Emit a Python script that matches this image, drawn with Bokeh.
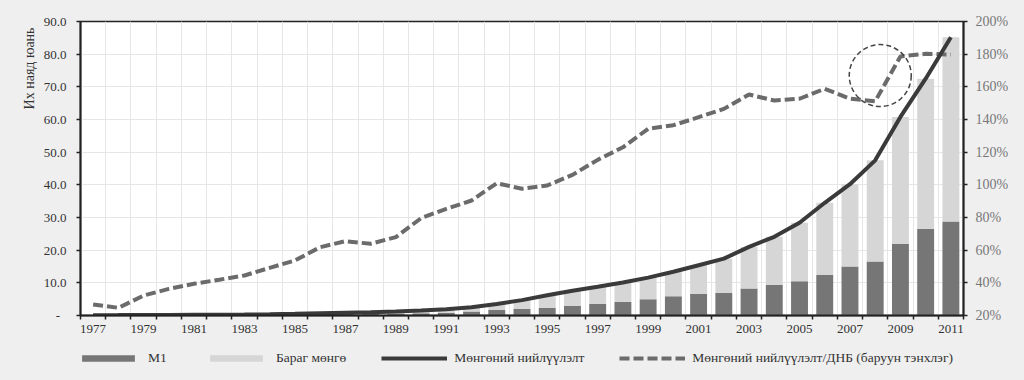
from bokeh.plotting import figure
from bokeh.layouts import column
from bokeh.models import (Range1d, LinearAxis, FixedTicker, NumeralTickFormatter,
                          PrintfTickFormatter, Legend, LegendItem, Title, ColumnDataSource)
from bokeh.embed import file_html
from bokeh.resources import INLINE

# ---------------- data ----------------
years = list(range(1977, 2012))

# Money supply (M2), trillion yuan
m2 = [0.10, 0.12, 0.15, 0.17, 0.20, 0.23, 0.28, 0.38, 0.50, 0.67,
      0.83, 1.00, 1.20, 1.50, 1.90, 2.50, 3.50, 4.70, 6.20, 7.60,
      8.80, 10.1, 11.6, 13.4, 15.4, 17.4, 21.0, 24.1, 28.4, 34.5,
      40.2, 47.5, 60.8, 72.5, 85.2]

# M1, trillion yuan
m1 = [0.06, 0.07, 0.09, 0.10, 0.12, 0.14, 0.16, 0.22, 0.30, 0.38,
      0.46, 0.55, 0.60, 0.70, 0.85, 1.20, 1.65, 2.00, 2.35, 2.90,
      3.60, 4.10, 5.00, 5.90, 6.60, 6.90, 8.30, 9.40, 10.5, 12.4,
      15.0, 16.5, 21.9, 26.5, 28.8]

# Money supply / GDP, percent (right axis)
ratio = [26.7, 24.7, 32.2, 36.3, 39.4, 41.9, 44.5, 49.2, 53.7, 61.8,
         65.5, 63.9, 68.0, 79.6, 85.3, 90.4, 101.0, 97.6, 99.6, 106.1,
         115.3, 123.0, 134.3, 136.5, 141.4, 146.5, 155.3, 151.6, 152.7, 158.8,
         152.7, 151.2, 178.6, 180.2, 179.8]

# quasi money = M2 - M1
quasi = [round(a - b, 3) for a, b in zip(m2, m1)]

left_ticks = list(range(0, 91, 10))
right_ticks = list(range(20, 201, 20))
highlight_year = 2008

labels = ["M1", "Бараг мөнгө", "Мөнгөний нийлүүлэлт",
          "Мөнгөний нийлүүлэлт/ДНБ (баруун тэнхлэг)"]
y_label = "Их наяд юань"

src = ColumnDataSource(dict(year=years, m1=m1, quasi=quasi, m2=m2, ratio=ratio))

FONT = "Liberation Serif"
BG = "#efefef"
C_M1, C_Q = "#767676", "#d6d6d6"
C_SOLID, C_DASH = "#3a3a3a", "#6b6b6b"

p = figure(width=1024, height=345,
           x_range=Range1d(years[0] - 0.5, years[-1] + 0.5),
           y_range=Range1d(0, 90),
           output_backend="svg", toolbar_location=None,
           min_border_left=80, min_border_right=61,
           min_border_top=21, min_border_bottom=30,
           background_fill_color="white", border_fill_color=BG,
           outline_line_color="#222222", outline_line_width=1.5)
p.extra_y_ranges = {"pct": Range1d(20, 200)}

bars = p.vbar_stack(["m1", "quasi"], x="year", width=0.67, source=src,
                    fill_color=[C_M1, C_Q], line_color=None)
dash = p.line("year", "ratio", source=src, y_range_name="pct",
              line_color=C_DASH, line_width=4, line_dash="10 4")
solid = p.line("year", "m2", source=src, line_color=C_SOLID, line_width=4)

hi = years.index(highlight_year)
cy = (ratio[hi] + ratio[hi + 1]) / 2 + 2
p.scatter(x=[highlight_year + 0.2], y=[cy], y_range_name="pct", size=62,
          marker="circle", fill_color=None, line_color="#444444",
          line_width=1.5, line_dash="5 3")

# x axis
p.xaxis.ticker = FixedTicker(ticks=[y for y in years if y % 2 == 1],
                             minor_ticks=[y - 0.5 for y in years] + [years[-1] + 0.5])
p.xaxis.formatter = NumeralTickFormatter(format="0")
p.xaxis.major_tick_line_color = None
p.xaxis.major_tick_out = 4
p.xaxis.major_tick_in = 0
p.xaxis.minor_tick_out = 4
p.xaxis.minor_tick_in = 0
p.xaxis.minor_tick_line_color = "#222222"
p.xaxis.minor_tick_line_width = 1.5
p.xaxis.axis_line_color = "#222222"
p.xaxis.axis_line_width = 2
p.xaxis.major_label_standoff = 5
p.xaxis.major_label_text_font = FONT
p.xaxis.major_label_text_font_size = "13px"
p.xaxis.major_label_text_color = "#333333"

p.xgrid.ticker = FixedTicker(ticks=[y - 0.5 for y in years])
p.xgrid.grid_line_color = "#e6e6e6"
p.ygrid.grid_line_color = "#e6e6e6"

# left axis
p.yaxis.ticker = FixedTicker(ticks=left_ticks)
p.yaxis.formatter = NumeralTickFormatter(format="0.0")
p.yaxis.major_label_overrides = {0: "-  "}
p.yaxis.major_tick_out = 4
p.yaxis.major_tick_in = 0
p.yaxis.minor_tick_line_color = None
p.yaxis.axis_line_color = "#222222"
p.yaxis.axis_line_width = 2
p.yaxis.major_tick_line_color = "#222222"
p.yaxis.major_tick_line_width = 1.5
p.yaxis.major_label_standoff = 10
p.yaxis.major_label_text_font = FONT
p.yaxis.major_label_text_font_size = "13px"
p.yaxis.major_label_text_color = "#333333"

# right axis
ax2 = LinearAxis(y_range_name="pct", ticker=FixedTicker(ticks=right_ticks),
                 formatter=PrintfTickFormatter(format="%d%%"))
ax2.major_tick_out = 4
ax2.major_tick_in = 0
ax2.minor_tick_line_color = None
ax2.axis_line_color = "#222222"
ax2.axis_line_width = 2
ax2.major_tick_line_color = "#222222"
ax2.major_tick_line_width = 1.5
ax2.major_label_standoff = 8
ax2.major_label_text_font = FONT
ax2.major_label_text_font_size = "14px"
ax2.major_label_text_color = "#777777"
p.add_layout(ax2, "right")

# y label as a left-side title near the top
p.add_layout(Title(text=y_label, align="right", offset=6, standoff=8,
                   text_font=FONT, text_font_size="14px",
                   text_font_style="normal", text_color="#333333"), "left")

# ---------------- legend strip ----------------
# same data, drawn in a strip whose ranges keep the marks out of view;
# only the legend entries are visible there
lg = figure(width=1024, height=35, output_backend="svg", toolbar_location=None,
            x_axis_type=None, y_axis_type=None,
            x_range=Range1d(0, 1), y_range=Range1d(-1, 0),
            min_border_left=80, min_border_right=61,
            min_border_top=0, min_border_bottom=0,
            background_fill_color=BG, border_fill_color=BG,
            outline_line_color=None)
lg.xgrid.visible = False
lg.ygrid.visible = False
r1 = lg.vbar(x="year", top="m1", width=0.67, source=src, fill_color=C_M1, line_color=None)
r2 = lg.vbar(x="year", top="quasi", width=0.67, source=src, fill_color=C_Q, line_color=None)
r3 = lg.line(x="year", y="m2", source=src, line_color=C_SOLID, line_width=4)
r4 = lg.line(x="year", y="ratio", source=src, line_color=C_DASH, line_width=4, line_dash="10 4")

legend = Legend(items=[LegendItem(label=labels[0], renderers=[r1]),
                       LegendItem(label=labels[1], renderers=[r2]),
                       LegendItem(label=labels[2], renderers=[r3]),
                       LegendItem(label=labels[3], renderers=[r4])],
                orientation="horizontal", location=(-5, 14),
                glyph_width=66, glyph_height=8, label_height=8,
                label_standoff=7, spacing=35, padding=0, margin=0,
                border_line_color=None, background_fill_alpha=0,
                label_text_font=FONT, label_text_font_size="13.5px",
                label_text_color="#333333")
lg.add_layout(legend)

layout = column(p, lg, spacing=0)

html = file_html(layout, INLINE)
html = html.replace("<body>", '<body style="background-color:%s;">' % BG)
open("out.html", "w").write(html)
